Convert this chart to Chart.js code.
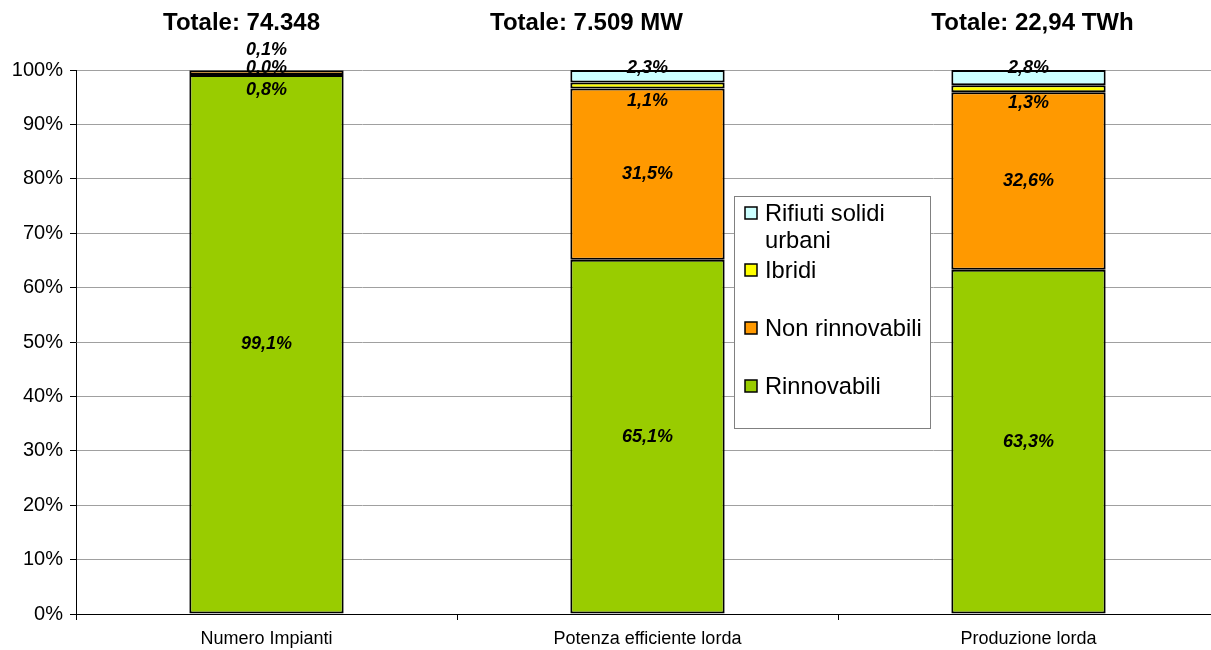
<!DOCTYPE html>
<html>
<head>
<meta charset="utf-8">
<script src="https://cdn.jsdelivr.net/npm/chart.js@4/dist/chart.umd.min.js"></script>
<style>
  html, body { margin: 0; padding: 0; background: #fff; overflow: hidden; }
</style>
</head>
<body>
<canvas id="myChart" width="1220" height="650"></canvas>
<script>
const categorie = ["Numero Impianti", "Potenza efficiente lorda", "Produzione lorda"];
const totali = ["Totale: 74.348", "Totale: 7.509 MW", "Totale: 22,94 TWh"];

// valori in percentuale, dal basso verso l'alto
const rinnovabili = [99.1, 65.1, 63.3];
const nonRinnovabili = [0.8, 31.5, 32.6];
const ibridi = [0.0, 1.1, 1.3];
const rifiuti = [0.1, 2.3, 2.8];

const yTicks = [0, 10, 20, 30, 40, 50, 60, 70, 80, 90, 100];

const FONT = "'Liberation Sans', Arial, sans-serif";

// spostamento verticale delle etichette (px) per evitare sovrapposizioni
const spostaEtichette = [
  [0, 17, -2.5, -20],
  [0, 0, 15.5, -8],
  [0, 0, 14, -9.6],
];
// i titoli non sono centrati esattamente sulle colonne
const spostaTitoli = [-25, -61, 4];

const etichetteBarre = {
  id: "etichetteBarre",
  afterDatasetsDraw(chart) {
    const { ctx, scales: { x } } = chart;
    ctx.save();
    ctx.fillStyle = "#000";
    ctx.textAlign = "center";
    ctx.textBaseline = "middle";
    ctx.font = "italic bold 18px " + FONT;
    chart.data.datasets.forEach((ds, di) => {
      const meta = chart.getDatasetMeta(di);
      meta.data.forEach((bar, i) => {
        const cy = (bar.y + bar.base) / 2 + spostaEtichette[i][di];
        const testo = ds.data[i].toFixed(1).replace(".", ",") + "%";
        ctx.fillText(testo, bar.x, cy);
      });
    });
    // titoli sopra le colonne
    ctx.font = "bold 24px " + FONT;
    totali.forEach((t, i) => {
      ctx.fillText(t, x.getPixelForValue(i) + spostaTitoli[i], 23);
    });
    ctx.restore();
  },
};

const legendaExcel = {
  id: "legendaExcel",
  afterDraw(chart) {
    const { ctx } = chart;
    const bx = 734, by = 196, bw = 196, bh = 232;
    ctx.save();
    ctx.fillStyle = "#fff";
    ctx.fillRect(bx, by, bw, bh);
    ctx.strokeStyle = "#808080";
    ctx.lineWidth = 1;
    ctx.strokeRect(bx + 0.5, by + 0.5, bw, bh);
    ctx.font = "23.7px " + FONT;
    ctx.textAlign = "left";
    ctx.textBaseline = "middle";
    const righe = [
      { ds: 3, testo: ["Rifiuti solidi", "urbani"], y: 213 },
      { ds: 2, testo: ["Ibridi"], y: 270 },
      { ds: 1, testo: ["Non rinnovabili"], y: 328 },
      { ds: 0, testo: ["Rinnovabili"], y: 386 },
    ];
    righe.forEach((r) => {
      const ds = chart.data.datasets[r.ds];
      ctx.fillStyle = ds.backgroundColor;
      ctx.fillRect(745, r.y - 6, 12, 12);
      ctx.strokeStyle = "#000";
      ctx.lineWidth = 1.5;
      ctx.strokeRect(745, r.y - 6, 12, 12);
      ctx.fillStyle = "#000";
      r.testo.forEach((t, k) => ctx.fillText(t, 765, r.y + 1 + k * 27));
    });
    ctx.restore();
  },
};

const serie = [
  { label: "Rinnovabili", data: rinnovabili, color: "#99CC00" },
  { label: "Non rinnovabili", data: nonRinnovabili, color: "#FF9900" },
  { label: "Ibridi", data: ibridi, color: "#FFFF00" },
  { label: "Rifiuti solidi urbani", data: rifiuti, color: "#CCFFFF" },
];

const config = {
  type: "bar",
  data: {
    labels: categorie,
    datasets: serie.map((s) => ({
      label: s.label,
      data: s.data,
      backgroundColor: s.color,
      borderColor: "#000",
      borderWidth: 2,
      borderSkipped: false,
      barPercentage: 0.405,
      categoryPercentage: 1,
    })),
  },
  options: {
    responsive: false,
    animation: false,
    layout: {
      padding: { top: 70, right: 1, bottom: 0, left: 0 },
    },
    scales: {
      x: {
        stacked: true,
        grid: {
          offset: true,
          drawOnChartArea: false,
          tickLength: 6,
          tickColor: "#000",
        },
        border: { color: "#000", width: 1 },
        ticks: {
          color: "#000",
          padding: 8,
          font: { family: FONT, size: 18 },
        },
        afterFit(scale) {
          scale.height = 36;
        },
      },
      y: {
        stacked: true,
        min: 0,
        max: 100,
        afterBuildTicks(scale) {
          scale.ticks = yTicks.map((v) => ({ value: v }));
        },
        grid: {
          color: "#a0a0a0",
          tickLength: 6,
          tickColor: "#000",
        },
        border: { color: "#000", width: 1 },
        ticks: {
          color: "#000",
          padding: 7,
          font: { family: FONT, size: 20 },
          callback: (v) => v + "%",
        },
        afterFit(scale) {
          scale.width = 76;
        },
      },
    },
    plugins: {
      legend: { display: false },
      tooltip: { enabled: false },
    },
  },
  plugins: [etichetteBarre, legendaExcel],
};

const ctx = document.getElementById("myChart");
new Chart(ctx, config);
</script>
</body>
</html>
